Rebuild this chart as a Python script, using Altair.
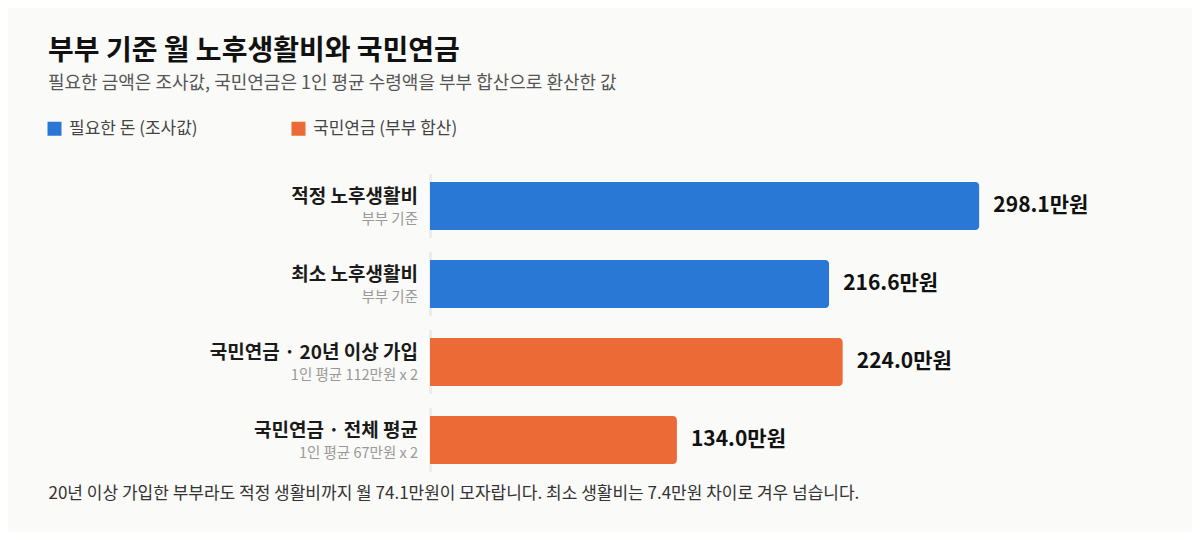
"""Retirement living costs vs national pension, couple basis (horizontal bars)."""

import pandas as pd
import altair as alt

FONT = "Noto Sans CJK KR"

categories = ["적정 노후생활비", "최소 노후생활비",
              "국민연금 · 20년 이상 가입", "국민연금 · 전체 평균"]
sublabels = ["부부 기준", "부부 기준", "1인 평균 112만원 x 2", "1인 평균 67만원 x 2"]
values = [298.1, 216.6, 224.0, 134.0]
groups = ["필요한 돈 (조사값)", "필요한 돈 (조사값)",
          "국민연금 (부부 합산)", "국민연금 (부부 합산)"]
group_order = ["필요한 돈 (조사값)", "국민연금 (부부 합산)"]
group_colors = ["#2a78d6", "#eb6a35"]

title_text = "부부 기준 월 노후생활비와 국민연금"
subtitle_text = "필요한 금액은 조사값, 국민연금은 1인 평균 수령액을 부부 합산으로 환산한 값"
footer_text = ("20년 이상 가입한 부부라도 적정 생활비까지 월 74.1만원이 모자랍니다. "
               "최소 생활비는 7.4만원 차이로 겨우 넘습니다.")

df = pd.DataFrame({
    "category": categories,
    "sub": sublabels,
    "value": values,
    "group": groups,
})
df["label"] = [f"{v:.1f}만원" for v in values]

y_enc = alt.Y("category:N", sort=categories, axis=None,
              scale=alt.Scale(paddingInner=14 / 78, paddingOuter=0))

base = alt.Chart(df)

spine = base.mark_rect(color="#ececec").encode(
    y=y_enc,
    x=alt.value(-1),
    x2=alt.value(2),
)

bars = base.mark_bar(size=48, cornerRadiusEnd=4).encode(
    y=y_enc,
    x=alt.X("value:Q",
            scale=alt.Scale(domain=[0, 350], nice=False),
            axis=alt.Axis(labels=False, ticks=False, domain=False, grid=False,
                          title=footer_text, titleAnchor="start", titleAlign="left",
                          titleX=-382, titleY=21, titleBaseline="middle",
                          titleFont=FONT, titleFontSize=17, titleFontWeight="normal",
                          titleColor="#333333")),
    color=alt.Color("group:N",
                    scale=alt.Scale(domain=group_order, range=group_colors),
                    legend=alt.Legend(title=None, orient="none", direction="horizontal",
                                      legendX=-384, legendY=-54,
                                      symbolType="square", symbolSize=196,
                                      symbolStrokeWidth=0, symbolOpacity=1,
                                      labelFont=FONT, labelFontSize=17,
                                      labelColor="#444444", labelOffset=6,
                                      columnPadding=92, labelLimit=400)),
)

values_text = base.mark_text(align="left", baseline="middle", dx=14, font=FONT,
                             fontSize=21, fontWeight="bold", color="#111111").encode(
    y=y_enc,
    x="value:Q",
    text="label:N",
)

main_labels = base.mark_text(align="right", baseline="middle", dx=-12, dy=-9,
                             font=FONT, fontSize=19, fontWeight="bold",
                             color="#1a1a1a").encode(
    y=y_enc,
    x=alt.value(0),
    text="category:N",
)

sub_labels = base.mark_text(align="right", baseline="middle", dx=-12, dy=14,
                            font=FONT, fontSize=14.5, color="#999999").encode(
    y=y_enc,
    x=alt.value(0),
    text="sub:N",
)

chart = alt.layer(spine, bars, values_text, main_labels, sub_labels).properties(
    width=645,
    height=298,
    autosize=alt.AutoSizeParams(type="none"),
    padding={"left": 422, "top": 166, "right": 117, "bottom": 60},
    background="#fafaf8",
    title=alt.Title(title_text, subtitle=subtitle_text, anchor="start",
                    frame="group", dx=-382, offset=27,
                    font=FONT, fontSize=28, fontWeight="bold", color="#111111",
                    subtitleFont=FONT, subtitleFontSize=18,
                    subtitleColor="#555555", subtitlePadding=9),
).configure_view(stroke=None)

chart.save("out.html", embed_options={"renderer": "svg", "actions": False})
